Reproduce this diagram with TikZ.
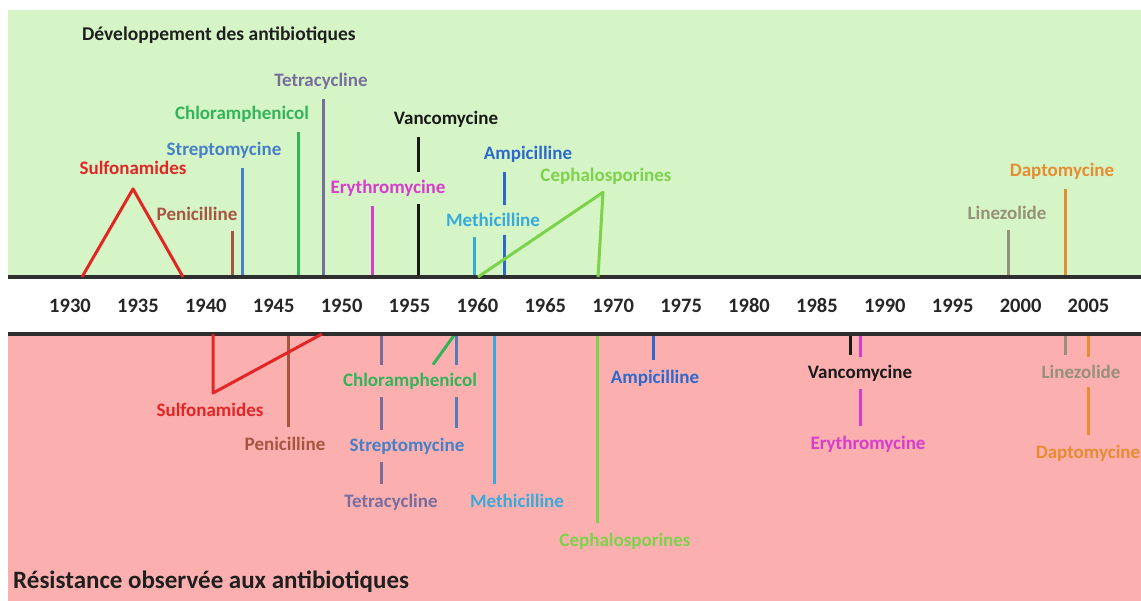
\documentclass[tikz,border=0pt]{standalone}
\usepackage{fontspec}
\setmainfont{Carlito}
\usetikzlibrary{positioning}
\pgfdeclarelayer{back}
\pgfdeclarelayer{stems}
\pgfsetlayers{back,stems,main}

\definecolor{bgG}{RGB}{214,245,199}
\definecolor{bgR}{RGB}{252,175,175}
\definecolor{cSul}{RGB}{226,38,38}
\definecolor{cPen}{RGB}{165,85,65}
\definecolor{cStr}{RGB}{70,128,198}
\definecolor{cChl}{RGB}{50,180,90}
\definecolor{cTet}{RGB}{120,110,158}
\definecolor{cEry}{RGB}{215,60,205}
\definecolor{cVan}{RGB}{25,25,25}
\definecolor{cAmp}{RGB}{45,105,205}
\definecolor{cMet}{RGB}{55,170,218}
\definecolor{cCep}{RGB}{125,210,75}
\definecolor{cLin}{RGB}{150,145,120}
\definecolor{cDap}{RGB}{230,140,50}

\begin{document}
\begin{tikzpicture}[
  x=1pt, y=-1pt,
  lab/.style={font=\fontsize{19}{22}\selectfont\bfseries, inner xsep=1pt, inner ysep=8pt},
  yr/.style={anchor=base, font=\fontsize{20.5}{24}\selectfont\bfseries, text=black!85},
  ttl/.style={anchor=base west, inner sep=0pt, text=black!88},
  coverT/.style={fill=bgG},
  coverB/.style={fill=bgR},
  stem/.style={line width=3pt, shorten >=2pt},
  tri/.style={line width=3pt, line join=round},
  axis/.style={draw=black!82, line width=3.5pt},
]
\useasboundingbox (0,0) rectangle (1141,601);

% ---------------- bands ----------------
\begin{pgfonlayer}{back}
  \fill[white] (0,0) rectangle (1141,601);
  \fill[bgG] (8,10) rectangle (1141,277);
  \fill[bgR] (8,334) rectangle (1141,601);
\end{pgfonlayer}
\coordinate (axT) at (0,277);
\coordinate (axB) at (0,334);
\draw[axis] (8,0 |- axT) -- (1141,0 |- axT);
\draw[axis] (8,0 |- axB) -- (1141,0 |- axB);

% ---------------- titles + years ----------------
\node[ttl, font=\fontsize{19.5}{22}\selectfont\bfseries] (devTitle) at (82,41) {Développement des antibiotiques};
\node[ttl, font=\fontsize{25}{28}\selectfont\bfseries] (resTitle) at (13,588) {Résistance observée aux antibiotiques};
\foreach \yy [count=\i from 0] in {1930,1935,...,2005}
  \node[yr] (y\yy) at ({70+67.9*\i},313) {\yy};

% ---------------- development (top) ----------------
\node[lab, text=cSul] (sulT) at (133,168) {Sulfonamides};
\node[lab, text=cPen] (penT) at (197,214) {Penicilline};
\node[lab, text=cStr] (strT) at (224,150) {Streptomycine};
\node[lab, text=cChl] (chlT) at (242,114) {Chloramphenicol};
\node[lab, text=cTet] (tetT) at (321,81) {Tetracycline};
\node[lab, text=cEry, coverT] (eryT) at (388,188) {Erythromycine};
\node[lab, text=cVan] (vanT) at (446,119) {Vancomycine};
\node[lab, text=cAmp] (ampT) at (528,154) {Ampicilline};
\node[lab, text=cMet, coverT] (metT) at (493,220) {Methicilline};
\node[lab, text=cCep] (cepT) at (606,176) {Cephalosporines};
\node[lab, text=cLin] (linT) at (1007,213) {Linezolide};
\node[lab, text=cDap] (dapT) at (1062,171) {Daptomycine};

% ---------------- resistance (bottom) ----------------
\node[lab, text=cSul] (sulB) at (210,410) {Sulfonamides};
\node[lab, text=cPen] (penB) at (285,444) {Penicilline};
\node[lab, text=cChl, coverB] (chlB) at (410,381) {Chloramphenicol};
\node[lab, text=cStr, coverB] (strB) at (407,446) {Streptomycine};
\node[lab, text=cTet] (tetB) at (391,502) {Tetracycline};
\node[lab, text=cMet] (metB) at (517,501) {Methicilline};
\node[lab, text=cCep] (cepB) at (625,541) {Cephalosporines};
\node[lab, text=cAmp] (ampB) at (655,378) {Ampicilline};
\node[lab, text=cVan, coverB] (vanB) at (860,373) {Vancomycine};
\node[lab, text=cEry] (eryB) at (868,444) {Erythromycine};
\node[lab, text=cLin, coverB] (linB) at (1081,372) {Linezolide};
\node[lab, text=cDap] (dapB) at (1088,453) {Daptomycine};

% ---------------- stems: axis --> label (behind the labels) ----------------
\begin{pgfonlayer}{stems}
  \draw[stem, cPen] (232,0 |- axT) -- (232,0 |- penT.south);
  \draw[stem, cStr] (242,0 |- axT) -- (242,0 |- strT.south);
  \draw[stem, cChl] (298,0 |- axT) -- (298,0 |- chlT.south);
  \draw[stem, cTet] (323,0 |- axT) -- (323,0 |- tetT.south);
  \draw[stem, cEry] (372,0 |- axT) -- (372,0 |- eryT.south);
  \draw[stem, cVan] (418,0 |- axT) -- (418,0 |- vanT.south);   % broken by eryT
  \draw[stem, cMet] (474,0 |- axT) -- (474,0 |- metT.south);
  \draw[stem, cAmp] (504,0 |- axT) -- (504,0 |- ampT.south);   % broken by metT
  \draw[stem, cLin] (1008,0 |- axT) -- (1008,0 |- linT.south);
  \draw[stem, cDap] (1065,0 |- axT) -- (1065,0 |- dapT.south);

  \draw[stem, cPen] (288,0 |- axB) -- (288,0 |- penB.north);
  \draw[stem, cTet] (381,0 |- axB) -- (381,0 |- tetB.north);   % broken by chlB, strB
  \draw[stem, cStr!70!cTet] (456,0 |- axB) -- (456,0 |- strB.north);
  \draw[stem, cChl, shorten >=0pt] (455,0 |- axB) -- ([xshift=23pt]chlB.north);
  \draw[stem, cMet] (494,0 |- axB) -- (494,0 |- metB.north);
  \draw[stem, cCep] (597,0 |- axB) -- (597,0 |- cepB.north);
  \draw[stem, cAmp] (653,0 |- axB) -- (653,0 |- ampB.north);
  \draw[stem, cVan] (850,0 |- axB) -- (850,0 |- vanB.north);
  \draw[stem, cEry] (860,0 |- axB) -- (860,0 |- eryB.north);   % broken by vanB
  \draw[stem, cLin] (1065,0 |- axB) -- (1065,0 |- linB.north);
  \draw[stem, cDap] (1088,0 |- axB) -- (1088,0 |- dapB.north); % broken by linB
\end{pgfonlayer}

% ---------------- triangles (periods) ----------------
\draw[tri, cSul] (82,0 |- axT) -- ([yshift=-6pt]sulT.south) -- (183,0 |- axT);
\draw[tri, cCep] (478,0 |- axT) -- ([xshift=-3pt]cepT.south) -- (598,0 |- axT);
\draw[tri, cSul] (213,0 |- axB) -- ([xshift=3pt,yshift=2pt]sulB.north) -- (322,0 |- axB);

\end{tikzpicture}
\end{document}
